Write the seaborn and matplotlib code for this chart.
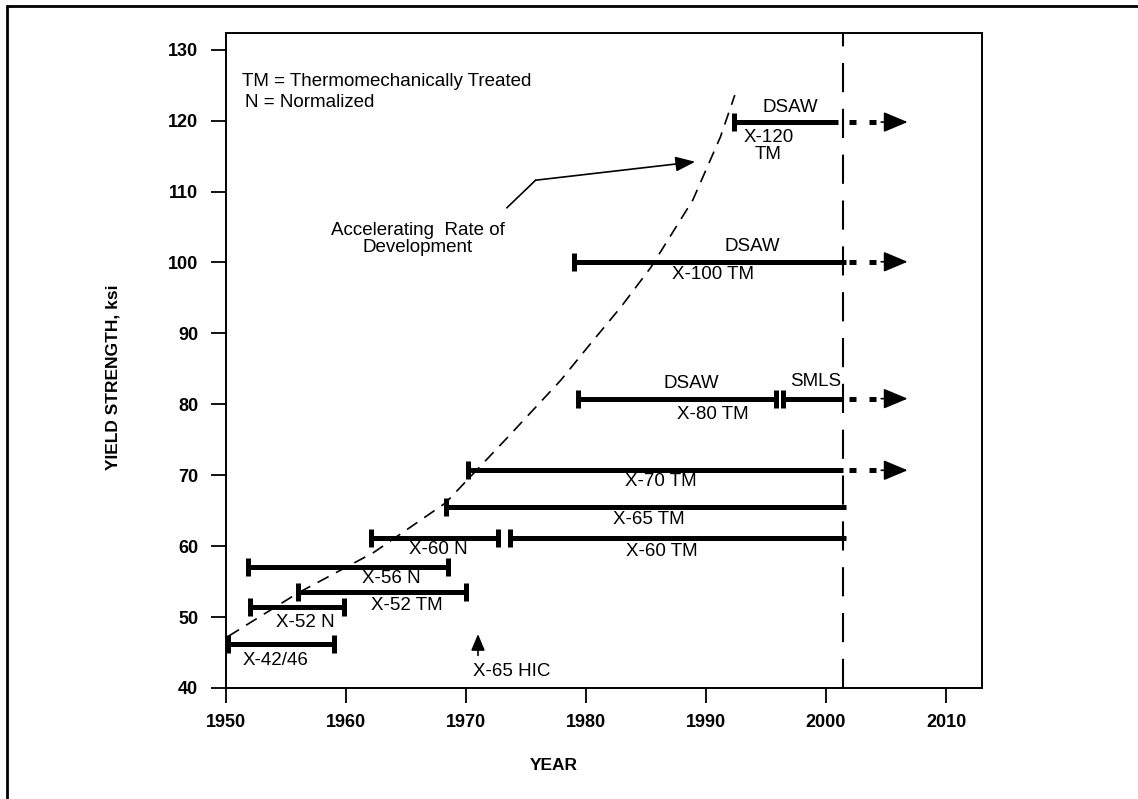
import matplotlib
matplotlib.use("Agg")
import matplotlib.pyplot as plt
import seaborn as sns
import pandas as pd
from matplotlib.lines import Line2D

# ---------------- data ----------------
grades = ["X-42/46", "X-52 N", "X-52 TM", "X-56 N", "X-60 N", "X-60 TM",
          "X-65 TM", "X-70 TM", "X-80 TM", "X-80 TM", "X-100 TM", "X-120 TM"]
seg_start = [1950.2, 1952.0, 1956.0, 1951.8, 1962.1, 1973.7,
             1968.3, 1970.2, 1979.3, 1996.4, 1979.0, 1992.3]
seg_end = [1959.0, 1959.8, 1970.0, 1968.5, 1972.7, 2001.7,
           2001.7, 2001.4, 1995.8, 2001.4, 2001.7, 2001.0]
seg_ksi = [46.2, 51.4, 53.5, 57.1, 61.2, 61.2,
           65.5, 70.7, 80.8, 80.8, 100.1, 119.8]
cap_left = [True] * 12
cap_right = [True, True, True, True, True, False,
             False, False, True, False, False, False]

# continuing grades (dotted arrows)
ext_ksi = [119.8, 100.1, 80.8, 70.7]
ext_start = 2001.9
ext_head_base = 2004.9
ext_tip = 2006.8

# current year marker
current_year = 2001.4

# accelerating-rate curve
curve_year = [1950.2, 1956.0, 1962.3, 1968.3, 1973.5, 1977.9,
              1980.4, 1982.9, 1985.4, 1988.9, 1991.2, 1992.4]
curve_ksi = [47.3, 53.4, 59.1, 66.1, 75.4, 83.4,
             88.6, 93.7, 99.3, 108.8, 117.7, 123.6]

x_ticks = [1950, 1960, 1970, 1980, 1990, 2000, 2010]
y_ticks = [40, 50, 60, 70, 80, 90, 100, 110, 120, 130]

# ---------------- style ----------------
sns.set_theme(style="white", rc={"text.color": "black",
                                 "axes.labelcolor": "black",
                                 "xtick.color": "black",
                                 "ytick.color": "black",
                                 "axes.edgecolor": "black"})
plt.rcParams["font.family"] = ["Liberation Sans", "DejaVu Sans"]

W, H = 1138, 799
fig = plt.figure(figsize=(W / 100, H / 100), dpi=100)
ax = fig.add_axes([226 / W, 1 - 688 / H, (982 - 226) / W, (688 - 32.7) / H])

ax.set_xlim(1950, 2013.0)
ax.set_ylim(40, 132.4)

for sp in ax.spines.values():
    sp.set_color("black")
    sp.set_linewidth(1.4)

ax.set_xticks(x_ticks)
ax.set_yticks(y_ticks)
ax.tick_params(axis="both", direction="out", length=11, width=1.3,
               colors="black", labelsize=13)
ax.tick_params(axis="x", pad=8, bottom=True)
ax.tick_params(axis="y", pad=9, left=True)
for lab in ax.get_xticklabels() + ax.get_yticklabels():
    lab.set_fontweight("bold")

# curve
df_curve = pd.DataFrame({"year": curve_year, "ksi": curve_ksi})
sns.lineplot(data=df_curve, x="year", y="ksi", ax=ax, color="black",
             lw=1.2, dashes=False, sort=False, estimator=None)
ax.lines[-1].set_dashes((7.5, 5))
ax.set_xlabel("")
ax.set_ylabel("")

# vertical dashed line at present
ax.axvline(current_year, color="black", lw=1.5, dashes=(14, 8))

# bars
bar_lw = 3.6
for s, e, k, cl, cr in zip(seg_start, seg_end, seg_ksi, cap_left, cap_right):
    ax.plot([s, e], [k, k], color="black", lw=bar_lw, solid_capstyle="butt")
    caps = [x for x, c in ((s, cl), (e, cr)) if c]
    if caps:
        ax.plot(caps, [k] * len(caps), ls="none", marker="|", ms=12.5,
                mew=3.6, color="black")

# continuation arrows
for k in ext_ksi:
    ax.plot([ext_start, ext_head_base], [k, k], color="black", lw=3.6,
            dashes=(1.4, 2.6), solid_capstyle="butt", dash_capstyle="butt")
    ax.annotate("", xy=(ext_tip, k), xytext=(ext_head_base - 0.3, k),
                arrowprops=dict(arrowstyle="-|>,head_length=1.0,head_width=0.42",
                                mutation_scale=15, lw=1.2, color="black",
                                shrinkA=0, shrinkB=0))

# text labels
tfs = 13.5
labels = [
    ("X-42/46", 1954.1, 43.9), ("X-52 N", 1956.6, 49.3),
    ("X-52 TM", 1965.1, 51.6), ("X-56 N", 1963.8, 55.5),
    ("X-60 N", 1967.7, 59.5), ("X-60 TM", 1986.3, 59.2),
    ("X-65 TM", 1985.2, 63.7), ("X-70 TM", 1986.2, 69.1),
    ("X-80 TM", 1990.6, 78.6), ("DSAW", 1988.8, 83.0),
    ("SMLS", 1999.1, 83.2), ("X-100 TM", 1990.6, 98.3),
    ("DSAW", 1993.9, 102.2), ("DSAW", 1997.0, 121.8),
]
for t, x, y in labels:
    ax.text(x, y, t, ha="center", va="center", fontsize=tfs, color="black")
ax.text(1995.2, 116.4, "X-120\nTM", ha="center", va="center",
        fontsize=tfs, linespacing=0.95, color="black")

# legend-like notes
ax.text(1951.3, 125.5, "TM = Thermomechanically Treated", ha="left",
        va="center", fontsize=tfs, color="black")
ax.text(1951.6, 122.5, "N = Normalized", ha="left", va="center",
        fontsize=tfs, color="black")

# accelerating annotation
ax.text(1966.0, 103.3, "Accelerating  Rate of\nDevelopment", ha="center",
        va="center", fontsize=tfs, linespacing=1.0, color="black")
ax.plot([1973.4, 1975.8], [107.7, 111.6], color="black", lw=1.2)
ax.annotate("", xy=(1989.1, 114.2), xytext=(1975.8, 111.6),
            arrowprops=dict(arrowstyle="-|>,head_length=1.0,head_width=0.38",
                            mutation_scale=12, lw=1.2, color="black",
                            shrinkA=0, shrinkB=0))

# X-65 HIC
ax.annotate("", xy=(1971.0, 47.6), xytext=(1971.0, 44.6),
            arrowprops=dict(arrowstyle="-|>,head_length=0.9,head_width=0.38",
                            mutation_scale=11, lw=1.2, color="black",
                            shrinkA=0, shrinkB=0))
ax.text(1973.8, 42.3, "X-65 HIC", ha="center", va="center", fontsize=tfs,
        color="black")

# axis titles
fig.text(113 / W, 1 - 377 / H, "YIELD STRENGTH, ksi", rotation=90,
         ha="center", va="center", fontsize=12.5, fontweight="bold",
         color="black")
fig.text(554 / W, 1 - 766 / H, "YEAR", ha="center", va="center",
         fontsize=12.5, fontweight="bold", color="black")

# outer frame (top & left)
fig.add_artist(Line2D([7 / W, 1], [1 - 6 / H, 1 - 6 / H],
                      transform=fig.transFigure, color="black", lw=2))
fig.add_artist(Line2D([7 / W, 7 / W], [0, 1 - 6 / H],
                      transform=fig.transFigure, color="black", lw=2))

fig.savefig("out.png", dpi=100, facecolor="white")
